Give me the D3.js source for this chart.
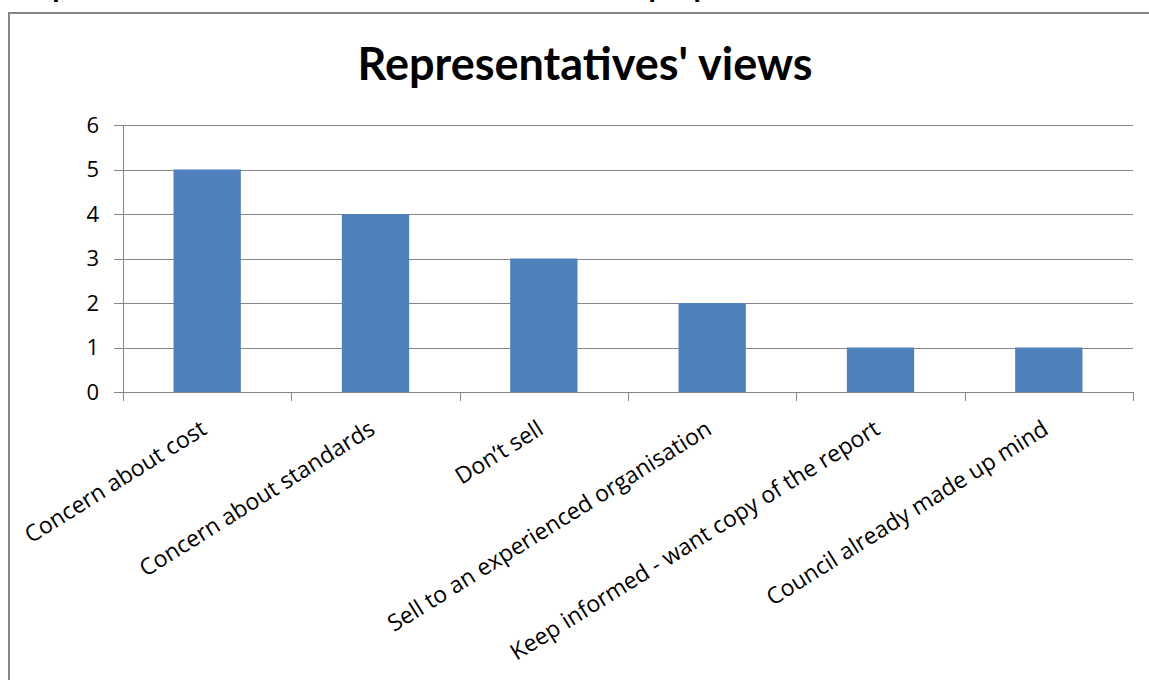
<!DOCTYPE html>
<html><head><meta charset="utf-8">
<script src="https://cdn.jsdelivr.net/npm/d3@7"></script>
<style>body{margin:0;background:#fff;overflow:hidden}svg{display:block}</style>
</head><body><svg id="c" width="1149" height="680"></svg>
<script>
// ---- data ----
const categories = ["Concern about cost", "Concern about standards", "Don\u2019t sell",
  "Sell to an experienced organisation", "Keep informed - want copy of the report",
  "Council already made up mind"];
const values = [5, 4, 3, 2, 1, 1];
const yTicks = [0, 1, 2, 3, 4, 5, 6];
const chartTitle = "Representatives' views";
const pageHeading = "Representatives' views and concerns about the proposal";

// ---- layout ----
const font = "'Open Sans', sans-serif";
const titleFont = "Lato, 'Open Sans', sans-serif";
const svg = d3.select("#c");
const plot = {left: 123, right: 1133, top: 125, bottom: 392};
const grey = "#868686";

const x = d3.scaleBand().domain(categories).range([plot.left, plot.right])
  .paddingInner(0.6).paddingOuter(0.3);
const y = d3.scaleLinear().domain([0, 6]).range([plot.bottom, plot.top]);

// clipped page heading above the chart frame
svg.append("text").attr("x", 18).attr("y", -3)
  .attr("font-family", titleFont).attr("font-weight", "bold").attr("font-size", 30)
  .attr("fill", "#000").text(pageHeading);

// chart frame (extends beyond the viewport on right/bottom)
svg.append("rect").attr("x", 9).attr("y", 13).attr("width", 1200).attr("height", 720)
  .attr("fill", "#fff").attr("stroke", grey).attr("stroke-width", 2);

// title
svg.append("text").attr("x", 585).attr("y", 80).attr("text-anchor", "middle")
  .attr("font-family", titleFont).attr("font-weight", "bold").attr("font-size", 45)
  .attr("fill", "#000").text(chartTitle);

// gridlines
svg.append("g").selectAll("line").data(yTicks).join("line")
  .attr("x1", plot.left - 9).attr("x2", plot.right)
  .attr("y1", d => Math.round(y(d)) + 0.5).attr("y2", d => Math.round(y(d)) + 0.5)
  .attr("stroke", grey).attr("stroke-width", 1);

// y tick labels
svg.append("g").selectAll("text").data(yTicks).join("text")
  .attr("x", 99).attr("y", d => y(d)).attr("dy", "0.36em")
  .attr("text-anchor", "end").attr("font-family", font).attr("font-size", 22)
  .attr("fill", "#000").text(d => d);

// bars
svg.append("g").selectAll("rect").data(values).join("rect")
  .attr("x", (d, i) => x(categories[i])).attr("width", x.bandwidth())
  .attr("y", d => y(d)).attr("height", d => y(0) - y(d))
  .attr("fill", "#4f81bd");

// axes lines
svg.append("line").attr("x1", plot.left + 0.5).attr("x2", plot.left + 0.5)
  .attr("y1", plot.top).attr("y2", plot.bottom + 9).attr("stroke", grey);
svg.append("line").attr("x1", plot.left).attr("x2", plot.right)
  .attr("y1", plot.bottom + 0.5).attr("y2", plot.bottom + 0.5).attr("stroke", grey);

// category tick marks at band boundaries
const bounds = categories.map(c => x(c) - x.step() * x.paddingInner() / 2);
bounds.push(plot.right);
svg.append("g").selectAll("line").data(bounds).join("line")
  .attr("x1", d => Math.round(d) + 0.5).attr("x2", d => Math.round(d) + 0.5)
  .attr("y1", plot.bottom).attr("y2", plot.bottom + 9).attr("stroke", grey);

// rotated category labels
svg.append("g").selectAll("text").data(categories).join("text")
  .attr("transform", c => `translate(${x(c) + x.bandwidth() / 2 + 1},433) rotate(-32)`)
  .attr("text-anchor", "end").attr("font-family", font).attr("font-size", 23)
  .attr("fill", "#000").text(c => c);
</script></body></html>
